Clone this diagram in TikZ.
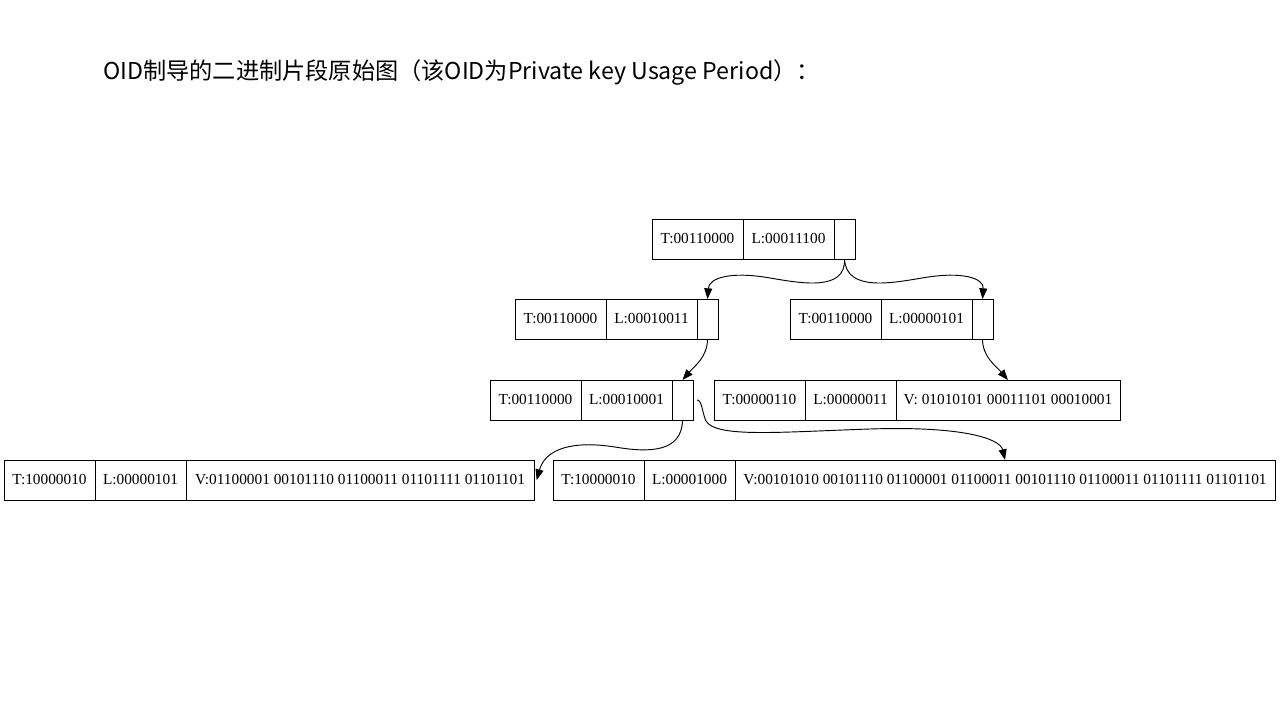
\documentclass[tikz,border=0pt]{standalone}
\usepackage{fontspec}
\setmainfont{Liberation Serif}
\newfontfamily\cjkfont{Noto Sans CJK SC}
\usetikzlibrary{arrows.meta, positioning}
\newcommand{\recArrow}{{Triangle[length=8pt, width=6pt]}}
\tikzset{
	cell/.style={draw, line width=0.7pt, outer sep=0pt, inner sep=0pt, minimum height=30pt, font=\fontsize{11.5}{13}\selectfont},
	tlcell/.style={cell, minimum width=68.25pt},
	ptrcell/.style={cell, minimum width=15.75pt},
	link/.style={line width=0.7pt, -\recArrow},
}

\begin{document}
\begin{tikzpicture}[x=0.75pt, y=-0.75pt]
	\useasboundingbox (0,0) rectangle (1280,720);

	\node[anchor=west, inner sep=0pt, font=\cjkfont\fontsize{17.4}{20}\selectfont] (title) at (103,72) {OID制导的二进制片段原始图（该OID为Private key Usage Period）：};

	% records T | L | pointer
	\foreach \name/\px/\py/\tag/\len in {root/652/219/00110000/00011100, r2l/515/299/00110000/00010011, r2r/790/299/00110000/00000101, r3l/490/380/00110000/00010001} {
		\node[tlcell, anchor=north west] (\name-t) at (\px,\py) {T:\tag};
		\node[tlcell, right=0pt of \name-t] (\name-l) {L:\len};
		\node[ptrcell, right=0pt of \name-l] (\name-p) {};
	}

	% records T | L | V
	\foreach \name/\px/\py/\tag/\len/\vw/\val in {r3r/714/380/00000110/00000011/168pt/{V: 01010101 00011101 00010001}, r4l/4/460/10000010/00000101/261pt/{V:01100001 00101110 01100011 01101111 01101101}, r4r/553/460/10000010/00001000/405pt/{V:00101010 00101110 01100001 01100011 00101110 01100011 01101111 01101101}} {
		\node[tlcell, anchor=north west] (\name-t) at (\px,\py) {T:\tag};
		\node[tlcell, right=0pt of \name-t] (\name-l) {L:\len};
		\node[cell, minimum width=\vw, right=0pt of \name-l] (\name-v) {\val};
	}

	\draw[link] (root-p.south) .. controls (846,292) and (800,283) .. (770,278) .. controls (730,271) and (709,278) .. (r2l-p.north);
	\draw[link] (root-p.south) .. controls (846,292) and (892,283) .. (922,278) .. controls (962,271) and (984,278) .. (r2r-p.north);
	\draw[link] (r2l-p.south) .. controls +(0,18) and +(12,-14) .. (r3l-p.north);
	\draw[link] (r2r-p.south) .. controls +(0,18) and +(-12,-14) .. (r3r-v.north);
	\draw[link] (r3l-p.south) .. controls (682,452) and (650,453) .. (615,447) .. controls (570,440) and (545,450) .. ([xshift=2pt]r4l-v.east);
	\draw[link] ([xshift=3pt]r3l-p.east) .. controls (702,400) and (702,412) .. (706,421) .. controls (716,438) and (780,432) .. (870,429) .. controls (960,426) and (1000,438) .. (r4r-v.north);

\end{tikzpicture}
\end{document}
